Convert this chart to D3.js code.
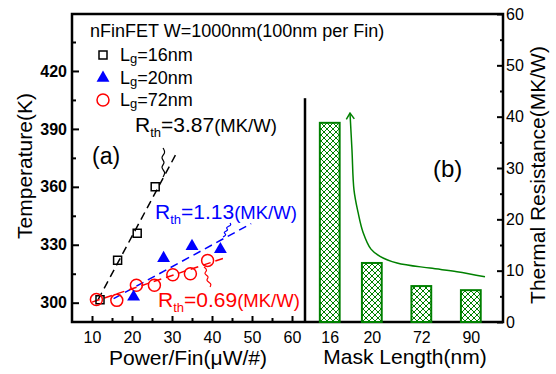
<!DOCTYPE html>
<html>
<head>
<meta charset="utf-8">
<script src="https://cdnjs.cloudflare.com/ajax/libs/d3/7.8.5/d3.min.js"></script>
<style>
    body { margin: 0; background: #fff; }
    svg { display: block; font-family: "Liberation Sans", Arial, sans-serif; }
    .axis path { display: none; }
    .axis line { stroke: #000; stroke-width: 2; }
    .axis text { fill: #000; font-size: 16px; font-family: "Liberation Sans", Arial, sans-serif; }
</style>
</head>
<body>
<svg id="chart" width="556" height="374"></svg>
<script>
/*global d3*/
"use strict";

// (a) temperature vs power per fin
var powerLg16 = [12, 16.4, 21.3, 25.8],
    tempLg16 = [301.5, 322, 336, 360],
    powerLg20 = [20.4, 27.9, 35, 42.1],
    tempLg20 = [303, 323, 329.2, 327.6],
    powerLg72 = [11.1, 16.2, 21.1, 25.6, 30.2, 34.6, 38.9],
    tempLg72 = [301.6, 301.2, 309, 309, 314.5, 315, 321.9];
var rthLabels = ["3.87", "1.13", "0.69"],
    rthSlope = [3.87, 1.13, 0.69],
    fitStart = [11.5, 15.4, 10],
    fitStartTemp = [301.5, 302.1, 300.3],
    fitEnd = [31.2, 49.8, 43.8];
var tempTicks = [300, 330, 360, 390, 420],
    tempMinor = [315, 345, 375, 405, 435],
    powerTicks = [10, 20, 30, 40, 50, 60],
    powerMinor = [15, 25, 35, 45, 55];

// (b) thermal resistance vs mask length
var maskLabels = ["16", "20", "72", "90"],
    maskPos = [0.5, 1.35, 2.35, 3.35],
    rthBars = [38.8, 11.5, 7.0, 6.2],
    trendPos = [0.909, 0.949, 0.99, 1.071, 1.172, 1.333, 1.515, 1.859, 2.525, 3.07, 3.636],
    trendRth = [40.7, 33.5, 25.7, 21.4, 17.5, 14.2, 12.8, 11.5, 10.5, 9.8, 8.8],
    rthTicks = [0, 10, 20, 30, 40, 50, 60],
    rthMinor = [5, 15, 25, 35, 45, 55];

(function () {
    var colors = ["#000", "#0000ff", "#ff0000"],
        green = "#008000";

    var svg = d3.select("#chart");
    var mLeft = 72, mRight = 503, mTop = 14, mBottom = 322, split = 305;

    var x = d3.scaleLinear().domain([5, 63.25]).range([mLeft, split]),
        y = d3.scaleLinear().domain([290, 449.5]).range([mBottom, mTop]),
        xb = d3.scaleLinear().domain([0, 4]).range([split, mRight]),
        yb = d3.scaleLinear().domain([0, 60]).range([mBottom, mTop]);

    var defs = svg.append("defs");
    var hatch = defs.append("pattern")
        .attr("id", "hatch")
        .attr("patternUnits", "userSpaceOnUse")
        .attr("width", 6)
        .attr("height", 6);
    hatch.append("rect").attr("width", 6).attr("height", 6).attr("fill", "#fff");
    hatch.append("path")
        .attr("d", "M0,0L6,6M6,0L0,6")
        .attr("stroke", green)
        .attr("stroke-width", 1);

    defs.append("marker")
        .attr("id", "arrow")
        .attr("viewBox", "-7 -6 8 12")
        .attr("markerWidth", 8)
        .attr("markerHeight", 12)
        .attr("markerUnits", "userSpaceOnUse")
        .attr("orient", "auto-start-reverse")
        .append("path")
        .attr("d", "M-6,-4L0,0L-6,4")
        .attr("fill", "none")
        .attr("stroke", green)
        .attr("stroke-width", 1.5);

    // ---- axes (a)
    svg.append("g").attr("class", "axis")
        .attr("transform", "translate(" + mLeft + ",0)")
        .call(d3.axisLeft(y).tickValues(tempTicks).tickSize(-7).tickPadding(5))
        .selectAll("text").style("font-weight", "bold");
    svg.append("g").attr("class", "axis")
        .attr("transform", "translate(" + mLeft + ",0)")
        .call(d3.axisLeft(y).tickValues(tempMinor).tickSize(-4).tickFormat(""));
    svg.append("g").attr("class", "axis")
        .attr("transform", "translate(0," + mBottom + ")")
        .call(d3.axisBottom(x).tickValues(powerTicks).tickSize(-6).tickPadding(10));
    svg.append("g").attr("class", "axis")
        .attr("transform", "translate(0," + mBottom + ")")
        .call(d3.axisBottom(x).tickValues(powerMinor).tickSize(-4).tickFormat(""));

    // ---- axes (b)
    svg.append("g").attr("class", "axis")
        .attr("transform", "translate(" + mRight + ",0)")
        .call(d3.axisRight(yb).tickValues(rthTicks).tickSize(-6).tickPadding(3));
    svg.append("g").attr("class", "axis")
        .attr("transform", "translate(" + mRight + ",0)")
        .call(d3.axisRight(yb).tickValues(rthMinor).tickSize(-3).tickFormat(""));
    svg.append("g").attr("class", "axis")
        .attr("transform", "translate(0," + mBottom + ")")
        .call(d3.axisBottom(xb).tickValues(maskPos).tickSize(-7).tickPadding(10)
            .tickFormat(function (d, i) { return maskLabels[i]; }));

    // frame and separator
    svg.append("rect")
        .attr("x", mLeft).attr("y", mTop)
        .attr("width", mRight - mLeft).attr("height", mBottom - mTop)
        .attr("fill", "none").attr("stroke", "#000").attr("stroke-width", 2.5);
    svg.append("line")
        .attr("x1", split).attr("x2", split)
        .attr("y1", yb(43.6)).attr("y2", mBottom)
        .attr("stroke", "#000").attr("stroke-width", 2.5);

    // ---- bars (b)
    svg.append("g").selectAll("rect")
        .data(rthBars)
        .enter().append("rect")
        .attr("x", function (d, i) { return xb(maskPos[i] - 0.2); })
        .attr("width", xb(0.4) - xb(0))
        .attr("y", function (d) { return yb(d); })
        .attr("height", function (d) { return yb(0) - yb(d); })
        .attr("fill", "url(#hatch)")
        .attr("stroke", green)
        .attr("stroke-width", 2);

    svg.append("path")
        .datum(trendPos)
        .attr("d", d3.line()
            .x(function (d) { return xb(d); })
            .y(function (d, i) { return yb(trendRth[i]); })
            .curve(d3.curveCatmullRom))
        .attr("fill", "none")
        .attr("stroke", green)
        .attr("stroke-width", 1.5)
        .attr("marker-start", "url(#arrow)");

    // ---- fit lines (a)
    rthSlope.forEach(function (s, i) {
        svg.append("line")
            .attr("x1", x(fitStart[i]))
            .attr("y1", y(fitStartTemp[i]))
            .attr("x2", x(fitEnd[i]))
            .attr("y2", y(fitStartTemp[i] + s * (fitEnd[i] - fitStart[i])))
            .attr("stroke", colors[i])
            .attr("stroke-width", 1.5)
            .attr("stroke-dasharray", "8,5");
    });

    // ---- markers (a)
    var square = d3.symbol(d3.symbolSquare, 64),
        triangle = d3.symbol(d3.symbolTriangle, 72),
        circle = d3.symbol(d3.symbolCircle, 113);

    function drawPoints(px, py, sym, color, filled) {
        svg.append("g").selectAll("path")
            .data(px)
            .enter().append("path")
            .attr("transform", function (d, i) { return "translate(" + x(d) + "," + y(py[i]) + ")"; })
            .attr("d", sym)
            .attr("fill", filled ? color : "none")
            .attr("stroke", filled ? "none" : color)
            .attr("stroke-width", 1.5);
    }
    drawPoints(powerLg16, tempLg16, square, colors[0], false);
    drawPoints(powerLg72, tempLg72, circle, colors[2], false);
    drawPoints(powerLg20, tempLg20, triangle, colors[1], true);

    // ---- legend
    svg.append("text")
        .attr("x", 90).attr("y", 37)
        .attr("font-size", 18)
        .text("nFinFET W=1000nm(100nm per Fin)");
    var legendSyms = [square, triangle, circle],
        legendText = ["16", "20", "72"],
        legendY = [55, 78, 100];
    legendText.forEach(function (lg, i) {
        svg.append("path")
            .attr("transform", "translate(103," + legendY[i] + ")")
            .attr("d", legendSyms[i])
            .attr("fill", i === 1 ? colors[i] : "none")
            .attr("stroke", i === 1 ? "none" : colors[i])
            .attr("stroke-width", 1.5);
        var t = svg.append("text").attr("x", 120).attr("y", legendY[i] + 6).attr("font-size", 18);
        t.append("tspan").text("L");
        t.append("tspan").attr("font-size", 13).attr("dy", 2).text("g");
        t.append("tspan").attr("dy", -2).text("=" + lg + "nm");
    });

    // ---- Rth annotations with squiggle leaders
    var rthTextPos = [[135, 132], [155, 219], [158, 306.5]],
        squigglePos = [[163, 148, 163, 177], [230, 223, 223, 237], [204, 267, 210, 287]];

    function squiggle(x0, y0, x1, y1, color) {
        var pts = [], n = 6;
        d3.range(n + 1).forEach(function (k) {
            var t = k / n,
                off = (k === 0 || k === n) ? 0 : (k % 2 ? 3 : -3);
            pts.push([x0 + (x1 - x0) * t + off, y0 + (y1 - y0) * t]);
        });
        svg.append("path")
            .attr("d", d3.line().curve(d3.curveBasis)(pts))
            .attr("fill", "none")
            .attr("stroke", color)
            .attr("stroke-width", 1.2);
    }

    rthLabels.forEach(function (v, i) {
        var t = svg.append("text")
            .attr("x", rthTextPos[i][0])
            .attr("y", rthTextPos[i][1])
            .attr("fill", colors[i]);
        t.append("tspan").attr("font-size", 21).text("R");
        t.append("tspan").attr("font-size", 13).attr("dy", 5).text("th");
        t.append("tspan").attr("font-size", 21).attr("dy", -5).text("=" + v);
        t.append("tspan").attr("font-size", 18.5).text("(MK/W)");
        var s = squigglePos[i];
        squiggle(s[0], s[1], s[2], s[3], colors[i]);
    });

    // ---- panel tags and titles
    svg.append("text").attr("x", 92).attr("y", 164).attr("font-size", 23).text("(a)");
    svg.append("text").attr("x", 433).attr("y", 177).attr("font-size", 24).text("(b)");

    svg.append("text")
        .attr("transform", "translate(32,166) rotate(-90)")
        .attr("text-anchor", "middle")
        .attr("font-size", 21)
        .text("Temperature(K)");
    svg.append("text")
        .attr("x", 188).attr("y", 365)
        .attr("text-anchor", "middle")
        .attr("font-size", 21)
        .text("Power/Fin(\u03bcW/#)");
    svg.append("text")
        .attr("x", 405).attr("y", 364)
        .attr("text-anchor", "middle")
        .attr("font-size", 21)
        .text("Mask Length(nm)");
    svg.append("text")
        .attr("transform", "translate(545,175) rotate(-90)")
        .attr("text-anchor", "middle")
        .attr("font-size", 21)
        .text("Thermal Resistance(MK/W)");
}());
</script>
</body>
</html>
